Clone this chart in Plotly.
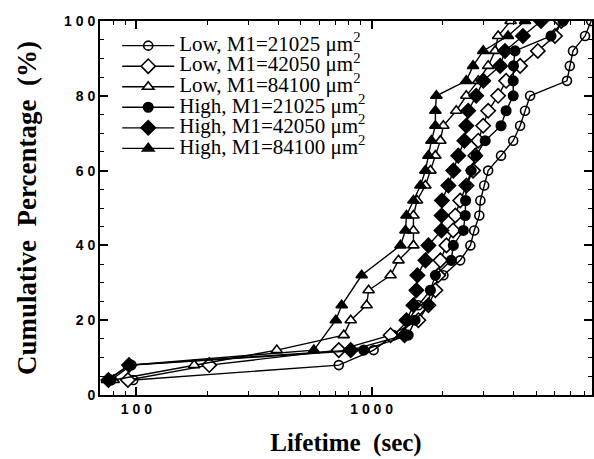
import math
import plotly.graph_objects as go

# ---- data (lifetime in seconds, cumulative percentage) ----
low_21025_pct = [4, 8, 12, 16, 20, 24, 28, 32, 36, 40, 44, 48, 52, 56, 60, 64, 68, 72, 76, 80, 84, 88, 92, 96, 100]
low_21025_t = [97, 725, 1020, 1240, 1435, 1580, 1780, 2020, 2380, 2630, 2730, 2870, 2900, 3010, 3130, 3550,
               4000, 4280, 4490, 4720, 6770, 6960, 7180, 8080, 8580]

low_42050_pct = [4, 8, 12, 16, 20, 24, 28, 32, 36, 40, 44, 48, 52, 56, 60, 64, 68, 72, 76, 80, 84, 88, 92, 96, 100]
low_42050_t = [92, 204, 725, 1204, 1580, 1744, 1867, 1920, 1960, 2080, 2220, 2270, 2380, 2530, 2700, 2760,
               2840, 2980, 3130, 3450, 3730, 4280, 5090, 6020, 6400]

low_84100_pct = [4, 8, 12, 16, 20, 24, 28, 32, 36, 40, 44, 48, 52, 56, 60, 64, 68, 72, 76, 80, 84, 88, 92, 96, 100]
low_84100_t = [80, 176, 395, 761, 815, 952, 971, 1204, 1301, 1506, 1506, 1506, 1560, 1693, 1778, 1867,
               1960, 2018, 2290, 2527, 2840, 3130, 3350, 3450, 3900]

high_21025_pct = [4, 8, 12, 16, 20, 24, 28, 32, 36, 40, 44, 48, 52, 56, 60, 64, 68, 72, 76, 80, 84, 88, 92, 96, 100]
high_21025_t = [78, 95, 925, 1430, 1530, 1744, 1778, 1867, 2180, 2225, 2454, 2500, 2510, 2527, 2650, 2780,
                3040, 3550, 3730, 4000, 4000, 4010, 4070, 5790, 6510]

high_42050_pct = [4, 8, 12, 16, 20, 24, 28, 32, 36, 40, 44, 48, 52, 56, 60, 64, 68, 72, 76, 80, 84, 88, 92, 96, 100]
high_42050_t = [76, 93, 815, 1380, 1407, 1506, 1550, 1565, 1693, 1744, 1980, 1985, 1990, 2120, 2225, 2335,
                2480, 2527, 2575, 2785, 2983, 3520, 3690, 4400, 5250]

high_84100_pct = [4, 8, 12, 20, 24, 32, 40, 44, 48, 52, 56, 60, 64, 68, 72, 76, 80, 84, 88, 92, 96, 100]
high_84100_t = [75, 93, 568, 704, 746, 907, 1327, 1393, 1407, 1506, 1613, 1693, 1744, 1796, 1867, 1867,
                1885, 2527, 2700, 2983, 3800, 4490]

series_names = [
    "Low, M1=21025 μm<sup>2</sup>",
    "Low, M1=42050 μm<sup>2</sup>",
    "Low, M1=84100 μm<sup>2</sup>",
    "High, M1=21025 μm<sup>2</sup>",
    "High, M1=42050 μm<sup>2</sup>",
    "High, M1=84100 μm<sup>2</sup>",
]

x_tickvals = [100, 1000]
x_ticktext = ["1 0 0", "1 0 0 0"]
x_minor = [70, 80, 90, 200, 300, 400, 500, 600, 700, 800, 900, 2000, 3000, 4000, 5000, 6000, 7000, 8000]
y_tickvals = [0, 20, 40, 60, 80, 100]
y_ticktext = ["0", "2 0", "4 0", "6 0", "8 0", "1 0 0"]

series = [
    (low_21025_t, low_21025_pct, "circle", 9, "rgba(255,255,255,0)"),
    (low_42050_t, low_42050_pct, "diamond", 11, "white"),
    (low_84100_t, low_84100_pct, "triangle-up", 10, "white"),
    (high_21025_t, high_21025_pct, "circle", 9.5, "black"),
    (high_42050_t, high_42050_pct, "diamond", 11, "black"),
    (high_84100_t, high_84100_pct, "triangle-up", 10, "black"),
]

fig = go.Figure()
for (t, p, sym, size, fill), name in zip(series, series_names):
    fig.add_trace(go.Scatter(
        x=t, y=p, mode="lines+markers",
        name='<span style="font-size:21px">' + name + '</span>',
        line=dict(color="black", width=1.4),
        marker=dict(symbol=sym, size=size, color=fill,
                    line=dict(color="black", width=1.6)),
    ))

fig.update_layout(
    width=594, height=459,
    margin=dict(l=100, r=0, t=21, b=64),
    paper_bgcolor="white", plot_bgcolor="white",
    showlegend=True,
    legend=dict(
        x=0.035, y=0.975, xanchor="left", yanchor="top",
        font=dict(family="Liberation Serif", size=13.5, color="black"),
        bgcolor="rgba(0,0,0,0)", borderwidth=0,
        itemwidth=52, tracegroupgap=0,
    ),
    font=dict(family="Liberation Sans", color="black"),
)
fig.update_xaxes(
    type="log", range=[math.log10(70), math.log10(8650)],
    tickmode="array", tickvals=x_tickvals, ticktext=x_ticktext,
    tickfont=dict(family="Liberation Sans", size=14, color="black", weight="bold"),
    ticks="inside", ticklen=8, tickwidth=1.5, tickcolor="black",
    minor=dict(tickmode="array", tickvals=x_minor, ticks="inside", ticklen=4,
               tickwidth=1.2, tickcolor="black", showgrid=False),
    showline=True, linecolor="black", linewidth=2, mirror="ticks",
    showgrid=False, zeroline=False,
    title=dict(text="Lifetime  (sec)", standoff=18,
               font=dict(family="Liberation Serif", size=25, color="black", weight="bold")),
)
fig.update_yaxes(
    range=[0, 100],
    tickmode="array", tickvals=y_tickvals, ticktext=y_ticktext,
    tickfont=dict(family="Liberation Sans", size=14, color="black", weight="bold"),
    ticks="inside", ticklen=8, tickwidth=1.5, tickcolor="black",
    minor=dict(dtick=5, ticks="inside", ticklen=4, tickwidth=1.2, tickcolor="black", showgrid=False),
    showline=True, linecolor="black", linewidth=2, mirror="ticks",
    showgrid=False, zeroline=False,
    title=dict(text="Cumulative  Percentage  (%)", standoff=20,
               font=dict(family="Liberation Serif", size=27, color="black", weight="bold")),
)

fig.write_html("out.html")
